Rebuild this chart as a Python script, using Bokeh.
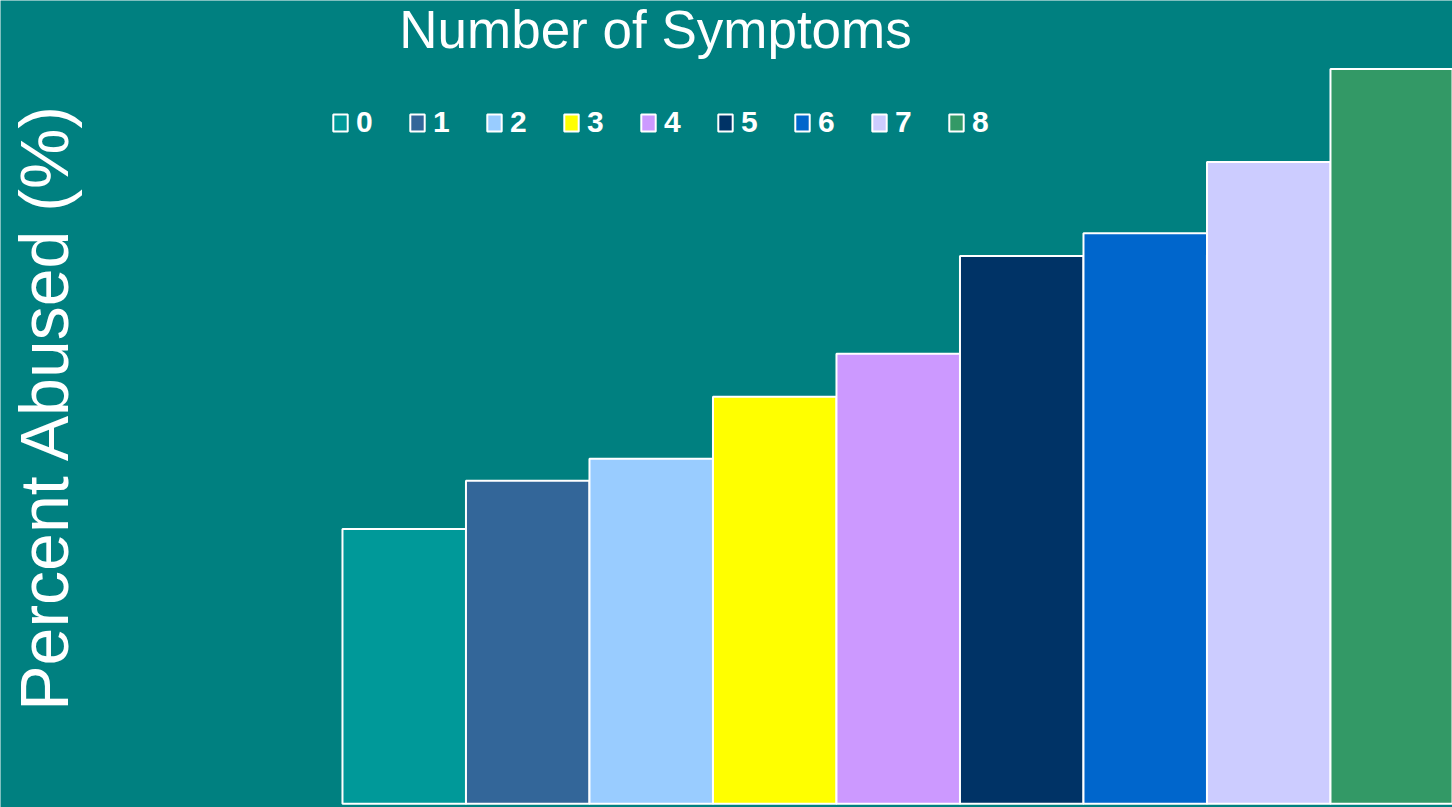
import math

from bokeh.plotting import figure
from bokeh.models import ColumnDataSource, Legend, LegendItem, Label, Range1d
from bokeh.embed import file_html
from bokeh.resources import INLINE

# Number of symptoms and the share of respondents who were abused (%)
symptoms = ["0", "1", "2", "3", "4", "5", "6", "7", "8"]
percent_abused = [15.05, 17.7, 18.9, 22.3, 24.65, 30.0, 31.25, 35.15, 40.25]
bar_colors = ["#009999", "#336699", "#99CCFF", "#FFFF00", "#CC99FF",
              "#003366", "#0066CC", "#CCCCFF", "#339966"]

BG = "#008080"
FONT = "Liberation Sans"
W, H = 1452, 807

source = ColumnDataSource(dict(
    x=[int(s) for s in symptoms],
    pct=percent_abused,
    color=bar_colors,
    label=symptoms,
))

p = figure(
    width=W, height=H,
    x_range=Range1d(-3.269, 8.488),
    y_range=Range1d(-0.2, 44),
    x_axis_type=None, y_axis_type=None,
    toolbar_location=None,
    output_backend="svg",
    min_border=0,
)
p.background_fill_color = BG
p.border_fill_color = BG
p.outline_line_color = None
p.grid.visible = False

bars = p.vbar(x="x", top="pct", width=1, source=source,
              fill_color="color", line_color="white", line_width=2)

legend = Legend(
    items=[LegendItem(label=s, renderers=[bars], index=i) for i, s in enumerate(symptoms)],
    orientation="horizontal",
    location=(331, H - 139),
    padding=0, margin=0, spacing=32,
    glyph_width=18, glyph_height=21,
    label_standoff=7, label_width=20,
    label_text_color="white",
    label_text_font=FONT,
    label_text_font_style="bold",
    label_text_font_size="30px",
    background_fill_alpha=0,
    border_line_alpha=0,
)
p.add_layout(legend)

title = Label(
    x=655, y=H - 29, x_units="screen", y_units="screen",
    text="Number of Symptoms",
    text_align="center", text_baseline="alphabetic",
    text_color="white", text_font=FONT, text_font_size="53px",
)
p.add_layout(title)

ylabel = Label(
    x=43, y=H - 406, x_units="screen", y_units="screen",
    text="Percent Abused (%)", angle=math.pi / 2,
    text_align="center", text_baseline="alphabetic",
    text_color="white", text_font=FONT, text_font_size="68px",
)
p.add_layout(ylabel)

html = file_html(p, INLINE)
html = html.replace("<body>", '<body style="margin:0;background:%s">' % BG, 1)
open("out.html", "w").write(html)
